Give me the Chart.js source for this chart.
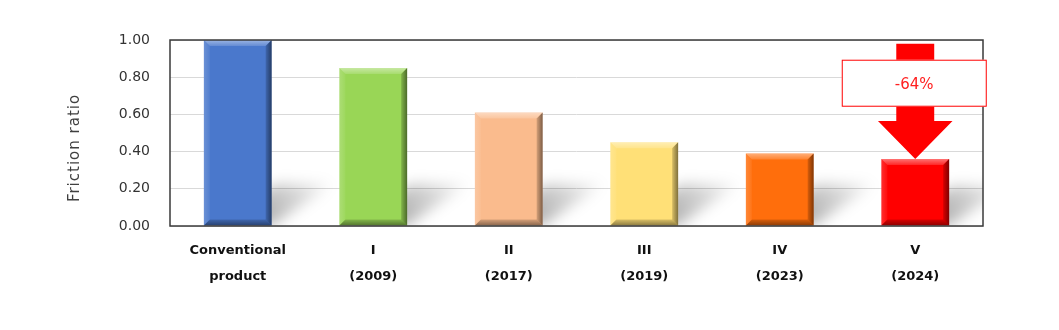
<!DOCTYPE html>
<html>
<head>
<meta charset="utf-8">
<script src="https://cdn.jsdelivr.net/npm/chart.js@4.4.1/dist/chart.umd.min.js"></script>
<style>
  html, body { margin: 0; padding: 0; background: #ffffff; }
  #wrap { width: 1059px; height: 330px; }
</style>
</head>
<body>
<div id="wrap"><canvas id="c" width="1059" height="330"></canvas></div>
<script>
// ---- data ----
const categories = [["Conventional", "product"], ["I", "(2009)"], ["II", "(2017)"], ["III", "(2019)"], ["IV", "(2023)"], ["V", "(2024)"]];
const frictionRatio = [1.00, 0.85, 0.61, 0.45, 0.39, 0.36];
const barColors = ["#4a78cc", "#99d656", "#fabb8d", "#ffe077", "#ff6e0c", "#ff0000"];
const yTickValues = [0, 0.2, 0.4, 0.6, 0.8, 1.0];
const axisTitle = "Friction ratio";
const reductionLabel = "-64%";
const arrowStartValue = 0.98;

// ---- plugins ----
const shadowPlugin = {
  id: 'barShadows',
  beforeDatasetsDraw(chart) {
    const ctx = chart.ctx, area = chart.chartArea;
    const meta = chart.getDatasetMeta(0);
    ctx.save();
    ctx.beginPath();
    ctx.rect(area.left, area.top, area.right - area.left, area.bottom - area.top);
    ctx.clip();
    ctx.filter = 'blur(7px)';
    meta.data.forEach(el => {
      const w = el.width, r = el.x + w / 2, l = el.x - w / 2;
      const bot = el.base, h = el.base - el.y;
      const sh = Math.min(42, h * 0.6), len = 62;
      const g = ctx.createLinearGradient(r, bot, r + len, bot - sh);
      g.addColorStop(0, 'rgba(0,0,0,0.30)');
      g.addColorStop(1, 'rgba(0,0,0,0.02)');
      ctx.fillStyle = g;
      ctx.beginPath();
      ctx.moveTo(l + 10, bot);
      ctx.lineTo(r, bot);
      ctx.lineTo(r + len, bot - sh);
      ctx.lineTo(l + 10 + len, bot - sh);
      ctx.closePath();
      ctx.fill();
    });
    ctx.restore();
  }
};

const bevelPlugin = {
  id: 'bevel',
  afterDatasetsDraw(chart) {
    const ctx = chart.ctx;
    const meta = chart.getDatasetMeta(0);
    meta.data.forEach(el => {
      const w = el.width, l = el.x - w / 2, r = el.x + w / 2, t = el.y, b = el.base;
      const bv = 6;
      const poly = (pts, fill) => {
        ctx.beginPath();
        ctx.moveTo(pts[0][0], pts[0][1]);
        for (let i = 1; i < pts.length; i++) ctx.lineTo(pts[i][0], pts[i][1]);
        ctx.closePath();
        ctx.fillStyle = fill;
        ctx.fill();
      };
      ctx.save();
      // top facet
      let g = ctx.createLinearGradient(0, t, 0, t + bv);
      g.addColorStop(0, 'rgba(255,255,255,0.45)');
      g.addColorStop(1, 'rgba(255,255,255,0.15)');
      poly([[l, t], [r, t], [r - bv, t + bv], [l + bv, t + bv]], g);
      // left facet
      g = ctx.createLinearGradient(l, 0, l + bv, 0);
      g.addColorStop(0, 'rgba(255,255,255,0.18)');
      g.addColorStop(1, 'rgba(255,255,255,0.05)');
      poly([[l, t], [l + bv, t + bv], [l + bv, b - bv], [l, b]], g);
      // right facet
      g = ctx.createLinearGradient(r - bv, 0, r, 0);
      g.addColorStop(0, 'rgba(0,0,0,0.15)');
      g.addColorStop(1, 'rgba(0,0,0,0.50)');
      poly([[r, t], [r, b], [r - bv, b - bv], [r - bv, t + bv]], g);
      // bottom facet
      g = ctx.createLinearGradient(0, b - bv, 0, b);
      g.addColorStop(0, 'rgba(0,0,0,0.15)');
      g.addColorStop(1, 'rgba(0,0,0,0.45)');
      poly([[l, b], [r, b], [r - bv, b - bv], [l + bv, b - bv]], g);
      ctx.restore();
    });
  }
};

const framePlugin = {
  id: 'frame',
  afterDatasetsDraw(chart) {
    const ctx = chart.ctx, a = chart.chartArea;
    ctx.save();
    ctx.strokeStyle = '#3a3a3a';
    ctx.lineWidth = 1.5;
    ctx.strokeRect(a.left, a.top, a.right - a.left, a.bottom - a.top);
    ctx.restore();
  }
};

const arrowPlugin = {
  id: 'arrow',
  afterDraw(chart) {
    const ctx = chart.ctx;
    const meta = chart.getDatasetMeta(0);
    const el = meta.data[meta.data.length - 1];
    const ys = chart.scales.y;
    const cx = el.x, tip = el.y, topY = ys.getPixelForValue(arrowStartValue);
    const shaftHalf = el.width * 0.28, headHalf = el.width * 0.55, headLen = 38;
    ctx.save();
    ctx.fillStyle = '#ff0000';
    ctx.beginPath();
    ctx.moveTo(cx - shaftHalf, topY);
    ctx.lineTo(cx + shaftHalf, topY);
    ctx.lineTo(cx + shaftHalf, tip - headLen);
    ctx.lineTo(cx + headHalf, tip - headLen);
    ctx.lineTo(cx, tip);
    ctx.lineTo(cx - headHalf, tip - headLen);
    ctx.lineTo(cx - shaftHalf, tip - headLen);
    ctx.closePath();
    ctx.fill();
    // label box
    const bw = 145, bh = 47, bx = cx - 1 - bw / 2, by = topY + 16;
    ctx.fillStyle = '#ffffff';
    ctx.fillRect(bx, by, bw, bh);
    ctx.strokeStyle = '#ff0000';
    ctx.lineWidth = 1;
    ctx.strokeRect(bx + 0.5, by + 0.5, bw - 1, bh - 1);
    ctx.fillStyle = '#ff2020';
    ctx.font = '15px "DejaVu Sans", sans-serif';
    ctx.textAlign = 'center';
    ctx.textBaseline = 'middle';
    ctx.fillText(reductionLabel, cx - 1, by + bh / 2 + 2);
    ctx.restore();
  }
};

const yTitlePlugin = {
  id: 'yTitle',
  afterDraw(chart) {
    const ctx = chart.ctx, a = chart.chartArea;
    ctx.save();
    ctx.translate(75, (a.top + a.bottom) / 2 + 15);
    ctx.rotate(-Math.PI / 2);
    ctx.fillStyle = '#404040';
    ctx.font = '15px "DejaVu Sans", sans-serif';
    try { ctx.letterSpacing = '1px'; } catch (e) {}
    ctx.textAlign = 'center';
    ctx.textBaseline = 'middle';
    ctx.fillText(axisTitle, 0, 0);
    ctx.restore();
  }
};

new Chart(document.getElementById('c'), {
  type: 'bar',
  data: {
    labels: categories,
    datasets: [{
      data: frictionRatio,
      backgroundColor: barColors,
      borderWidth: 0,
      barPercentage: 0.5,
      categoryPercentage: 1.0
    }]
  },
  options: {
    responsive: false,
    animation: false,
    devicePixelRatio: 1,
    layout: { padding: { top: 40, right: 76, left: 0, bottom: 0 } },
    plugins: { legend: { display: false }, tooltip: { enabled: false } },
    scales: {
      x: {
        grid: { display: false, drawTicks: false },
        border: { display: false },
        ticks: {
          padding: 12,
          color: '#111111',
          maxRotation: 0,
          autoSkip: false,
          font: { family: '"DejaVu Sans", sans-serif', size: 13, weight: 'bold', lineHeight: 2 }
        },
        afterFit(scale) { scale.height = 104; }
      },
      y: {
        min: 0,
        max: 1,
        afterBuildTicks(scale) { scale.ticks = yTickValues.map(v => ({ value: v })); },
        grid: { color: '#d9d9d9', lineWidth: 1, drawTicks: false },
        border: { display: false },
        ticks: {
          padding: 20,
          color: '#333333',
          font: { family: '"DejaVu Sans", sans-serif', size: 14 },
          callback: v => Number(v).toFixed(2)
        },
        afterFit(scale) { scale.width = 170; }
      }
    }
  },
  plugins: [shadowPlugin, bevelPlugin, framePlugin, arrowPlugin, yTitlePlugin]
});
</script>
</body>
</html>
